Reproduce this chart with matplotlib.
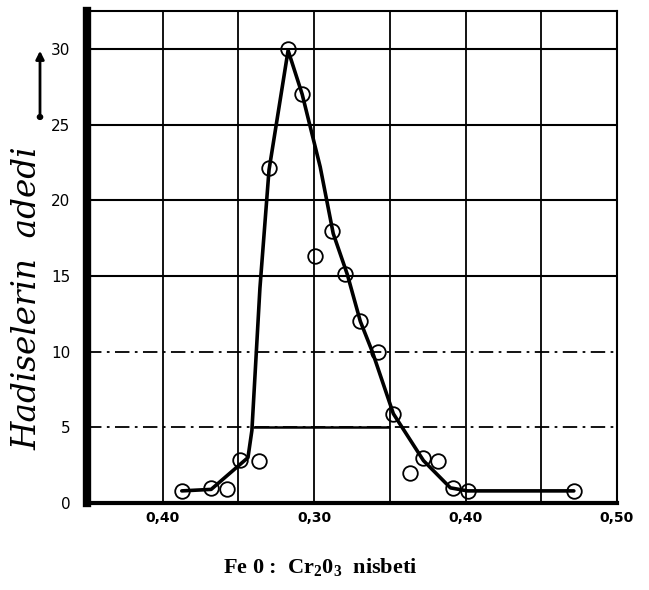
import matplotlib
matplotlib.use("Agg")
import matplotlib.pyplot as plt

plt.rcParams["mathtext.fontset"] = "custom"
plt.rcParams["mathtext.rm"] = "Liberation Serif:bold"
plt.rcParams["mathtext.bf"] = "Liberation Serif:bold"

# Observed data points (open circles)
point_x = [0.2126, 0.232, 0.2425, 0.2510, 0.2636, 0.2702, 0.2828, 0.2921, 0.3007,
           0.3119, 0.3205, 0.3305, 0.3424, 0.3523, 0.3636, 0.3722, 0.3821, 0.3914,
           0.4013, 0.4715]
point_y = [0.8, 1.0, 0.9, 2.85, 2.75, 22.1, 30.0, 27.0, 16.3,
           18.0, 15.1, 12.0, 10.0, 5.9, 2.0, 3.0, 2.8, 1.0,
           0.8, 0.8]

# Hand-drawn fitted curve
curve_x = [0.2126, 0.232, 0.2563, 0.2589, 0.2642, 0.2702, 0.2828, 0.2921, 0.304,
           0.3126, 0.3219, 0.3305, 0.3384, 0.3523, 0.3722, 0.390, 0.4013, 0.4715]
curve_y = [0.8, 0.9, 3.0, 4.8, 14.2, 22.0, 29.9, 27.0, 22.2,
           17.8, 15.1, 12.0, 10.0, 5.9, 2.8, 1.0, 0.8, 0.8]

x_ticks = [0.20, 0.30, 0.40, 0.50]
x_tick_labels = ["0,40", "0,30", "0,40", "0,50"]
y_ticks = [0, 5, 10, 15, 20, 25, 30]
y_tick_labels = ["0", "5", "10", "15", "20", "25", "30"]

fig = plt.figure(figsize=(6.49, 5.90), dpi=100)
ax = fig.add_axes([87/649, 1 - 503/590, (617 - 87)/649, (503 - 11)/590])
ax.set_xlim(0.15, 0.50)
ax.set_ylim(0, 32.5)

# grid
for gx in [0.20, 0.25, 0.30, 0.35, 0.40, 0.45]:
    ax.axvline(gx, color="black", lw=1.3, zorder=1)
for gy in [15, 20, 25, 30]:
    ax.axhline(gy, color="black", lw=1.5, zorder=1)
for gy in [5, 10]:
    ax.axhline(gy, color="black", lw=1.3, ls=(0, (8, 3, 1.5, 3)), zorder=1)
ax.hlines(5, 0.2595, 0.35, color="black", lw=1.8, zorder=1)

ax.plot(curve_x, curve_y, color="black", lw=2.6, zorder=3, solid_capstyle="round")
ax.plot(point_x, point_y, ls="none", marker="o", ms=10.5, mfc="none",
        mec="black", mew=1.3, zorder=4)

for side in ["top", "right"]:
    ax.spines[side].set_linewidth(1.5)
ax.spines["left"].set_linewidth(6)
ax.spines["bottom"].set_linewidth(3)

ax.set_xticks(x_ticks)
ax.set_xticklabels(x_tick_labels, fontsize=10, fontweight="bold")
ax.set_yticks(y_ticks)
ax.set_yticklabels(y_tick_labels, fontsize=11)
ax.tick_params(length=0, pad=12)
ax.tick_params(axis="x", pad=6)

fig.text(320/649, 1 - 568/590, r"Fe 0 :  Cr$_2$0$_3$  nisbeti", ha="center", va="center",
         fontsize=16, fontweight="bold", family="Liberation Serif")
fig.text(28/649, 1 - 298/590, "Hadiselerin  adedi", rotation=90, ha="center", va="center",
         fontsize=23.5, style="italic", family="DejaVu Serif")
fig.add_artist(matplotlib.patches.FancyArrowPatch(
    (40/649, 1 - 117/590), (40/649, 1 - 48/590), transform=fig.transFigure,
    arrowstyle="-|>", mutation_scale=12, lw=2, color="black"))
fig.patches.append(matplotlib.patches.Circle((40/649, 1 - 117/590), 0.004,
                   transform=fig.transFigure, color="black"))

fig.savefig("out.png", dpi=100)
